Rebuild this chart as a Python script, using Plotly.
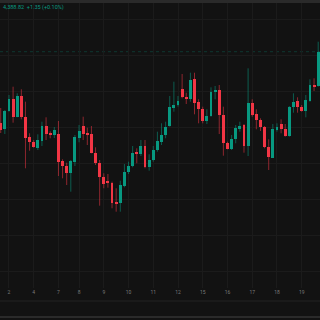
import plotly.graph_objects as go
import numpy as np

# ---- data (price values) ----
opens = [1381.73, 1381.07, 1382.93, 1384.10, 1382.33, 1384.40, 1382.30, 1380.27, 1379.80, 1379.23,
         1379.93, 1381.40, 1380.63, 1380.50, 1380.60, 1377.93, 1377.40, 1376.73, 1377.83, 1380.23,
         1381.40, 1380.73, 1380.57, 1378.73, 1377.67, 1376.33, 1375.90, 1375.73, 1373.83, 1373.67,
         1375.43, 1376.77, 1377.40, 1378.77, 1378.60, 1379.40, 1377.27, 1378.00, 1379.00, 1379.83,
         1380.50, 1381.40, 1383.23, 1383.50, 1385.07, 1384.30, 1384.10, 1386.07, 1383.80, 1383.13,
         1381.90, 1382.40, 1384.77, 1385.00, 1382.50, 1379.67, 1379.13, 1380.07, 1381.10, 1381.47,
         1379.40, 1383.67, 1382.60, 1382.00, 1381.33, 1379.27, 1378.23, 1381.00, 1381.60, 1381.13,
         1380.40, 1383.33, 1383.90, 1383.33, 1382.93, 1383.90, 1385.50, 1385.40]
highs = [1383.20, 1383.00, 1384.50, 1385.33, 1384.67, 1385.07, 1383.83, 1380.67, 1380.00, 1380.57,
         1381.83, 1382.27, 1380.87, 1381.30, 1381.90, 1378.07, 1377.73, 1378.00, 1380.50, 1381.50,
         1382.33, 1381.23, 1381.40, 1379.27, 1378.00, 1376.67, 1376.60, 1375.83, 1375.17, 1375.93,
         1377.60, 1377.83, 1379.40, 1379.17, 1380.00, 1380.00, 1378.57, 1379.40, 1380.83, 1381.67,
         1381.83, 1384.40, 1385.83, 1384.40, 1386.60, 1384.73, 1386.73, 1386.73, 1384.07, 1383.33,
         1383.07, 1385.27, 1385.40, 1385.50, 1383.33, 1379.83, 1380.50, 1381.50, 1381.83, 1381.60,
         1387.17, 1384.07, 1383.07, 1382.17, 1381.40, 1380.07, 1381.60, 1381.67, 1382.07, 1381.60,
         1383.40, 1384.67, 1384.27, 1383.50, 1384.50, 1386.07, 1386.17, 1389.83]
lows = [1380.70, 1380.60, 1382.83, 1381.73, 1382.27, 1382.07, 1377.17, 1378.93, 1379.23, 1379.00,
        1379.40, 1380.00, 1380.17, 1380.20, 1376.40, 1376.17, 1375.50, 1374.83, 1377.40, 1379.77,
        1380.00, 1379.50, 1378.67, 1377.50, 1373.43, 1375.17, 1375.23, 1373.17, 1372.83, 1372.83,
        1375.27, 1376.60, 1377.27, 1377.67, 1378.40, 1377.17, 1376.93, 1377.83, 1378.83, 1379.50,
        1380.17, 1381.33, 1382.83, 1383.33, 1384.17, 1383.60, 1383.83, 1382.57, 1381.67, 1381.67,
        1381.60, 1382.33, 1384.07, 1380.60, 1378.43, 1379.07, 1379.00, 1379.67, 1380.83, 1378.73,
        1378.40, 1382.33, 1381.07, 1380.90, 1379.17, 1377.00, 1378.20, 1380.83, 1380.67, 1380.33,
        1380.33, 1382.73, 1382.73, 1382.83, 1382.27, 1383.83, 1384.90, 1385.33]
closes = [1381.00, 1382.93, 1384.07, 1382.33, 1384.40, 1382.27, 1380.23, 1379.77, 1379.33, 1379.97,
          1381.40, 1380.60, 1380.50, 1381.03, 1377.83, 1377.40, 1376.73, 1377.90, 1380.27, 1380.90,
          1380.60, 1380.53, 1378.73, 1377.67, 1376.33, 1375.60, 1375.67, 1373.73, 1373.67, 1375.47,
          1376.83, 1377.40, 1378.73, 1378.57, 1379.40, 1377.27, 1378.00, 1379.00, 1379.90, 1380.50,
          1381.33, 1383.27, 1383.50, 1383.90, 1384.27, 1384.07, 1386.00, 1383.73, 1383.13, 1381.93,
          1382.43, 1384.80, 1385.00, 1382.47, 1379.67, 1379.13, 1380.07, 1381.17, 1381.43, 1379.43,
          1383.73, 1382.50, 1382.00, 1381.33, 1379.27, 1378.27, 1381.07, 1381.33, 1381.07, 1380.40,
          1383.33, 1383.83, 1383.27, 1382.93, 1384.00, 1385.50, 1385.33, 1388.83]

tick_positions = [2, 8, 14, 19, 25, 31, 37, 43, 49, 55, 61, 67, 73]
tick_labels = ["2", "4", "7", "8", "9", "10", "11", "12", "15", "16", "17", "18", "19"]
legend_text = "4,388.82  +1.35 (+0.10%)"

UP = "#089981"
DOWN = "#F23645"
UP_WICK = "rgba(8,153,129,0.55)"
DOWN_WICK = "rgba(242,54,69,0.55)"
BG = "#121212"
GRID = "#1b1b1b"

o = np.array(opens); h = np.array(highs); l = np.array(lows); c = np.array(closes)
idx = np.arange(len(o))
up = c >= o

fig = go.Figure()

for mask, col in ((up, UP_WICK), (~up, DOWN_WICK)):
    xs, ys = [], []
    for i in idx[mask]:
        xs += [int(i), int(i), None]
        ys += [float(l[i]), float(h[i]), None]
    fig.add_trace(go.Scatter(x=xs, y=ys, mode="lines", line=dict(color=col, width=1),
                             hoverinfo="skip", showlegend=False))

base = np.minimum(o, c)
height = np.maximum(np.abs(c - o), 0.1)
fig.add_trace(go.Bar(x=idx, y=height, base=base, width=0.7,
                     marker=dict(color=[UP if u else DOWN for u in up], line=dict(width=0)),
                     showlegend=False))

fig.add_shape(type="line", xref="paper", x0=0, x1=1, yref="y", y0=closes[-1], y1=closes[-1],
              line=dict(color="rgba(8,153,129,0.28)", width=1, dash="dot"), layer="below")

# frame bands
fig.add_shape(type="rect", xref="paper", yref="paper", x0=0, x1=1, y0=1.0, y1=1 + 3/285,
              fillcolor="#2a2a2a", line=dict(width=0))
fig.add_shape(type="line", xref="paper", yref="paper", x0=0, x1=1,
              y0=-(301 - 288) / 285, y1=-(301 - 288) / 285, line=dict(color="#222222", width=1))
fig.add_shape(type="rect", xref="paper", yref="paper", x0=0, x1=1,
              y0=-(318 - 288) / 285, y1=-(316 - 288) / 285, fillcolor="#2a2a2a", line=dict(width=0))

fig.add_annotation(text=legend_text, xref="paper", yref="paper", x=1/320, y=1 - 4/285,
                   xanchor="left", yanchor="middle", showarrow=False,
                   font=dict(family="Roboto", size=5.5, color=UP))

fig.update_layout(
    width=320, height=320, margin=dict(l=0, r=0, t=3, b=32),
    paper_bgcolor=BG, plot_bgcolor=BG, bargap=0,
    xaxis=dict(range=[-0.175, 77.44], tickvals=tick_positions, ticktext=tick_labels,
               showgrid=True, gridcolor=GRID, gridwidth=1, zeroline=False, showline=False,
               ticks="", tickfont=dict(family="Roboto", size=5, color="#7a7a7a"),
               fixedrange=True),
    yaxis=dict(range=[1365.2, 1393.7], dtick=3.6, tick0=1392.1, showgrid=True, gridcolor=GRID,
               gridwidth=1, zeroline=False, showticklabels=False, ticks="", fixedrange=True),
)

fig.write_html("out.html")
